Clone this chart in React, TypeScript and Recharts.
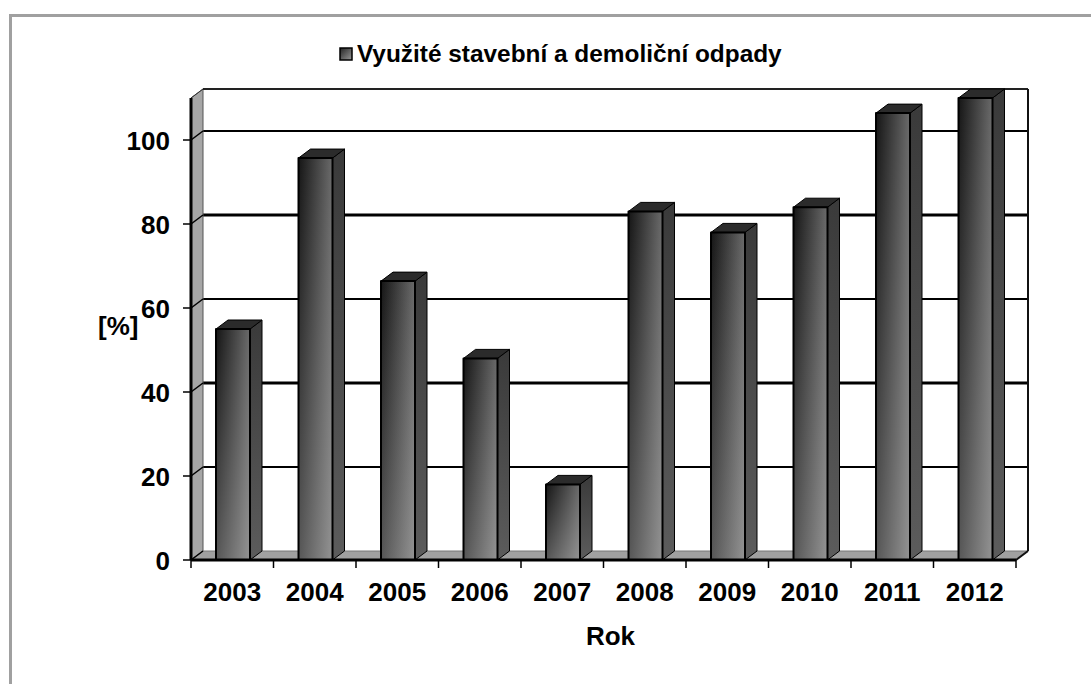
import { BarChart, Bar, XAxis, YAxis, CartesianGrid, Legend, usePlotArea } from "recharts";

const years = ["2003", "2004", "2005", "2006", "2007", "2008", "2009", "2010", "2011", "2012"];
const recycled = [55, 95.7, 66.4, 48, 18, 83, 78, 84, 106.4, 110];
const yTicks = [0, 20, 40, 60, 80, 100];
const heavyGridTicks = [40, 80];

const seriesName = "Využité stavební a demoliční odpady";
const font = "'Liberation Sans', Arial, sans-serif";
const depthX = 12;
const depthY = 9;
const yTickSize = 8;
const yTickMargin = 14;

const data = years.map((year, i) => ({ year, recycled: recycled[i] }));

function Walls() {
  const plot = usePlotArea();
  if (!plot) return null;
  const { x, y, width, height } = plot;
  const bottom = y + height;
  const right = x + width;
  return (
    <g>
      <polygon
        points={`${x},${y} ${x + depthX},${y - depthY} ${x + depthX},${bottom - depthY} ${x},${bottom}`}
        fill="#a6a6a6"
        stroke="#555"
        strokeWidth={1}
      />
      <polygon
        points={`${x},${bottom} ${x + depthX},${bottom - depthY} ${right + depthX},${bottom - depthY} ${right},${bottom}`}
        fill="#a0a0a0"
        stroke="#777"
        strokeWidth={1}
      />
      <line x1={x} y1={y} x2={x + depthX} y2={y - depthY} stroke="#333" strokeWidth={1} />
      <line x1={x + depthX} y1={y - depthY} x2={right + depthX} y2={y - depthY} stroke="#222" strokeWidth={2} />
      <line x1={right + depthX} y1={y - depthY} x2={right + depthX} y2={bottom - depthY} stroke="#111" strokeWidth={2} />
      <line x1={right + depthX} y1={bottom - depthY} x2={right} y2={bottom} stroke="#111" strokeWidth={2} />
    </g>
  );
}

function GridLine(props: any) {
  const { x1, x2, y2, index } = props;
  if (yTicks[index] === 0) return null;
  const w = heavyGridTicks.includes(yTicks[index]) ? 3 : 2;
  return <line x1={x1 + depthX} y1={y2 - depthY} x2={x2 + depthX} y2={y2 - depthY} stroke="#000" strokeWidth={w} />;
}

function Bar3D(props: any) {
  const { y, width, height } = props;
  const x = props.x + 1;
  const b = y + height;
  const r = x + width;
  return (
    <g stroke="#000" strokeWidth={2} strokeLinejoin="round">
      <polygon points={`${r},${y} ${r + depthX},${y - depthY} ${r + depthX},${b - depthY} ${r},${b}`} fill="url(#barSide)" strokeWidth={1} />
      <polygon points={`${x},${y} ${x + depthX},${y - depthY} ${r + depthX},${y - depthY} ${r},${y}`} fill="#2b2b2b" strokeWidth={1} />
      <rect x={x} y={y} width={width} height={height} fill="url(#barFront)" stroke="none" />
      <rect x={x} y={y} width={width} height={height} fill="url(#barShade)" />
    </g>
  );
}

function YearTick(props: any) {
  const { x, y, payload, index, width, visibleTicksCount } = props;
  const step = width / visibleTicksCount;
  const last = index === visibleTicksCount - 1;
  return (
    <g>
      <line x1={x - step / 2} y1={y} x2={x - step / 2} y2={y + 8} stroke="#000" strokeWidth={1.5} />
      {last && <line x1={x + step / 2} y1={y} x2={x + step / 2} y2={y + 8} stroke="#000" strokeWidth={1.5} />}
      <text x={x} y={y + 41} textAnchor="middle" fontFamily={font} fontWeight={700} fontSize={26} fill="#000">
        {payload.value}
      </text>
    </g>
  );
}

function ValueTick(props: any) {
  const { x, y, payload } = props;
  const wallX = x + yTickSize + yTickMargin;
  return (
    <g>
      <line x1={wallX} y1={y} x2={wallX + depthX} y2={y - depthY} stroke="#000" strokeWidth={1.5} />
      <text x={x + 1} y={y + 9.5} textAnchor="end" fontFamily={font} fontWeight={700} fontSize={26} fill="#000">
        {payload.value}
      </text>
    </g>
  );
}

function LegendContent({ payload }: any) {
  return (
    <div style={{ display: "flex", alignItems: "center", fontFamily: font, fontWeight: 700, fontSize: 24.4, color: "#000", whiteSpace: "nowrap" }}>
      <svg width={14} height={14} style={{ marginRight: 4 }}>
        <rect x={1} y={1} width={12} height={12} fill="url(#swatch)" stroke="#000" strokeWidth={1.5} />
      </svg>
      {payload?.[0]?.value}
    </div>
  );
}

export default function App() {
  return (
    <div style={{ position: "absolute", left: 0, top: 0, width: 1091, height: 684, overflow: "hidden", background: "#fff" }}>
      <div style={{ position: "absolute", left: 9, top: 14, width: 1082, height: 670, borderTop: "3px solid #a0a0a0", borderLeft: "3px solid #a0a0a0", boxSizing: "border-box" }} />
      <BarChart
        width={1091}
        height={684}
        data={data}
        margin={{ top: 98, right: 75, bottom: 44, left: 0 }}
        style={{ position: "absolute", left: 0, top: 0 }}
      >
        <defs>
          <linearGradient id="barFront" x1="0" y1="0" x2="1" y2="0">
            <stop offset="0%" stopColor="#151515" />
            <stop offset="100%" stopColor="#6a6a6a" />
          </linearGradient>
          <linearGradient id="barShade" x1="0" y1="0" x2="0" y2="1">
            <stop offset="0%" stopColor="#fff" stopOpacity={0} />
            <stop offset="100%" stopColor="#fff" stopOpacity={0.28} />
          </linearGradient>
          <linearGradient id="barSide" x1="0" y1="0" x2="0" y2="1">
            <stop offset="0%" stopColor="#3a3a3a" />
            <stop offset="100%" stopColor="#5c5c5c" />
          </linearGradient>
          <linearGradient id="swatch" x1="0" y1="0" x2="1" y2="1">
            <stop offset="0%" stopColor="#222" />
            <stop offset="100%" stopColor="#999" />
          </linearGradient>
        </defs>
        <Walls />
        <CartesianGrid vertical={false} horizontal={(p: any) => <GridLine key={p.key} {...p} />} />
        <XAxis
          dataKey="year"
          height={80}
          interval={0}
          axisLine={{ stroke: "#000", strokeWidth: 3 }}
          tickLine={false}
          tick={<YearTick />}
          tickSize={0}
          tickMargin={0}
          label={{ value: "Rok", position: "insideBottom", offset: -5, dx: 7, fontFamily: font, fontWeight: 700, fontSize: 26, fill: "#000" }}
        />
        <YAxis
          width={191}
          domain={[0, 110]}
          ticks={yTicks}
          interval={0}
          axisLine={{ stroke: "#000", strokeWidth: 3 }}
          tickLine={{ stroke: "#000", strokeWidth: 1.5 }}
          tickSize={yTickSize}
          tickMargin={yTickMargin}
          tick={<ValueTick />}
          label={{ value: "[%]", position: "insideLeft", offset: 98, dy: -3, fontFamily: font, fontWeight: 700, fontSize: 26, fill: "#000" }}
        />
        <Legend
          layout="vertical"
          align="center"
          verticalAlign="middle"
          wrapperStyle={{ left: 339, top: 40, width: "auto" }}
          content={<LegendContent />}
        />
        <Bar dataKey="recycled" name={seriesName} fill="#444" barSize={34} shape={<Bar3D />} isAnimationActive={false} />
      </BarChart>
    </div>
  );
}
